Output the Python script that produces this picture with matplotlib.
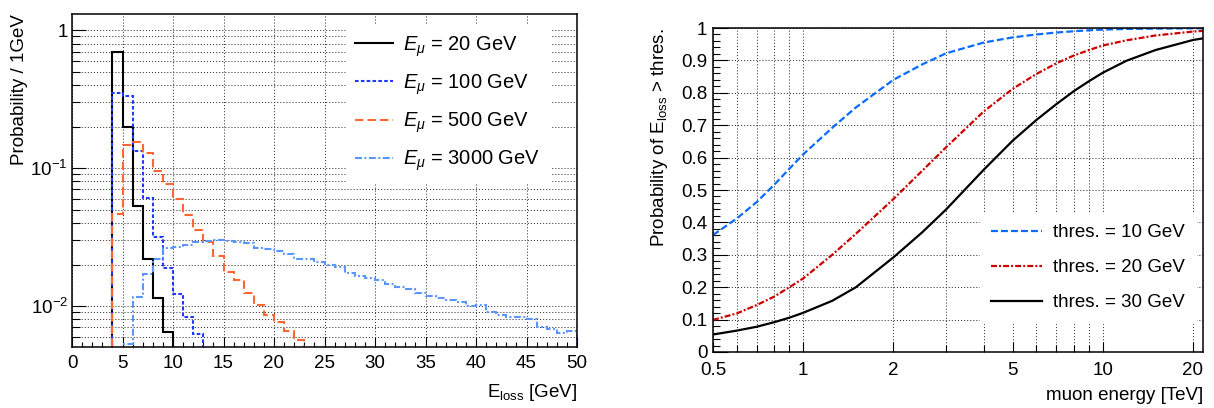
import numpy as np
import matplotlib
matplotlib.use("Agg")
import matplotlib.pyplot as plt
from matplotlib.lines import Line2D
from matplotlib.ticker import FixedLocator, FixedFormatter, MultipleLocator, LogLocator, NullFormatter

plt.rcParams["font.family"] = ["Liberation Sans", "DejaVu Sans"]
plt.rcParams["mathtext.fontset"] = "custom"
plt.rcParams["mathtext.rm"] = "Liberation Sans"
plt.rcParams["mathtext.it"] = "Liberation Sans:italic"
plt.rcParams["lines.scale_dashes"] = False
FS = 13.5

# ---- left: E_loss distributions, 1 GeV bins (first bin lower edge + contents)
start_20, start_100, start_500, start_3000 = 4, 4, 4, 5
p_20 = [0.69, 0.20, 0.0533, 0.0218, 0.0114, 0.0065]
p_100 = [0.351, 0.334, 0.133, 0.061, 0.0315, 0.0188, 0.0122, 0.0084, 0.0063]
p_500 = [0.0465, 0.147, 0.155, 0.129, 0.0955, 0.0762, 0.0593, 0.0456, 0.0355,
         0.0289, 0.0230, 0.0177, 0.0154, 0.0124, 0.0102, 0.0086, 0.0077,
         0.0066, 0.0057]
p_3000 = [0.0053, 0.0117, 0.0171, 0.0219, 0.0262, 0.0268, 0.0276, 0.0292,
          0.0298, 0.0300, 0.0296, 0.0292, 0.0288, 0.0265, 0.0260, 0.0250,
          0.0240, 0.0221, 0.0218, 0.0208, 0.0200, 0.0191, 0.0175, 0.0166,
          0.0160, 0.0155, 0.0145, 0.0138, 0.0132, 0.0125, 0.0118, 0.0115,
          0.0111, 0.0107, 0.0100, 0.0102, 0.0090, 0.0086, 0.0084, 0.0084,
          0.0080, 0.0070, 0.0068, 0.0064, 0.0066]
hist_labels = [r"$E_{\mu}$ = 20 GeV", r"$E_{\mu}$ = 100 GeV",
               r"$E_{\mu}$ = 500 GeV", r"$E_{\mu}$ = 3000 GeV"]

# ---- right: probability of E_loss above threshold vs muon energy [TeV]
muon_e = [0.5, 0.6, 0.7, 0.8, 0.9, 1.0, 1.25, 1.5, 2.0, 2.5, 3.0, 4.0, 5.0,
          6.0, 7.0, 8.0, 9.0, 10.0, 12.0, 15.0, 20.0, 21.6]
prob_10 = [0.361, 0.412, 0.463, 0.516, 0.566, 0.610, 0.692, 0.755, 0.840,
           0.888, 0.922, 0.955, 0.971, 0.980, 0.986, 0.990, 0.993, 0.995,
           0.997, 0.998, 0.999, 0.999]
prob_20 = [0.099, 0.119, 0.145, 0.171, 0.200, 0.227, 0.300, 0.365, 0.472,
           0.560, 0.632, 0.742, 0.812, 0.858, 0.891, 0.915, 0.932, 0.946,
           0.962, 0.977, 0.989, 0.991]
prob_30 = [0.054, 0.066, 0.078, 0.092, 0.106, 0.121, 0.158, 0.200, 0.292,
           0.370, 0.440, 0.562, 0.652, 0.716, 0.765, 0.805, 0.836, 0.862,
           0.899, 0.932, 0.963, 0.968]
thr_labels = ["thres. = 10 GeV", "thres. = 20 GeV", "thres. = 30 GeV"]

W, H = 1214, 408
fig = plt.figure(figsize=(W / 100, H / 100), dpi=100)

grid_kw = dict(color="#3a3a3a", linestyle=(0, (0.8, 1.4)), linewidth=0.7)

# ================= left panel
ax1 = fig.add_axes([72 / W, 1 - 347 / H, 505 / W, 333 / H])
styles = [
    dict(color="black", linestyle="-"),
    dict(color="#2038ff", linestyle=(0, (2.6, 1.6))),
    dict(color="#ff6633", linestyle=(0, (6.0, 3.0))),
    dict(color="#5b96ff", linestyle=(0, (5.0, 1.8, 1.4, 1.8))),
]
for start, vals, st in zip([start_20, start_100, start_500, start_3000],
                           [p_20, p_100, p_500, p_3000], styles):
    edges = np.arange(start, start + len(vals) + 1)
    ax1.stairs(vals, edges, baseline=1e-4, linewidth=1.5, **st)

ax1.set_yscale("log")
ax1.set_xlim(0, 50)
ax1.set_ylim(0.00505, 1.31)
ax1.xaxis.set_major_locator(MultipleLocator(5))
ax1.xaxis.set_minor_locator(MultipleLocator(1))
ax1.yaxis.set_major_locator(FixedLocator([0.01, 0.1, 1]))
ax1.yaxis.set_major_formatter(FixedFormatter([r"10$^{-2}$", r"10$^{-1}$", "1"]))
ax1.yaxis.set_minor_locator(LogLocator(base=10, subs=np.arange(2, 10)))
ax1.yaxis.set_minor_formatter(NullFormatter())
ax1.grid(True, which="major", axis="x", **grid_kw)
ax1.grid(True, which="both", axis="y", **grid_kw)
ax1.set_axisbelow(True)
ax1.tick_params(which="both", direction="in", labelsize=FS, width=0.8)
ax1.tick_params(axis="x", which="major", length=7, pad=6)
ax1.tick_params(axis="x", which="minor", length=3.6)
ax1.tick_params(axis="y", which="major", length=10, pad=3)
ax1.tick_params(axis="y", which="minor", length=5.8)
for s in ax1.spines.values():
    s.set_linewidth(1.1)
ax1.set_xlabel(r"E$_{\mathregular{loss}}$ [GeV]", fontsize=FS, loc="right", labelpad=7)
ax1.set_ylabel("Probability / 1GeV", fontsize=FS, loc="top", labelpad=2)

handles = [Line2D([], [], linewidth=1.5, **st) for st in styles]
leg1 = ax1.legend(handles, hist_labels, loc="upper left", fontsize=14.5,
                  bbox_to_anchor=(346 / W, 1 - 25 / H), bbox_transform=fig.transFigure,
                  borderaxespad=0, borderpad=0.45, labelspacing=0.68,
                  handlelength=1.9, handletextpad=0.5, fancybox=False,
                  framealpha=1, edgecolor="white", facecolor="white")

# ================= right panel
ax2 = fig.add_axes([713 / W, 1 - 352 / H, 490 / W, 324 / H])
curve_styles = [
    dict(color="#0a6cff", linestyle=(0, (5.0, 2.2))),
    dict(color="#cc0000", linestyle=(0, (4.3, 1.5, 1.4, 1.5))),
    dict(color="black", linestyle="-"),
]
for vals, st, lab in zip([prob_10, prob_20, prob_30], curve_styles, thr_labels):
    ax2.plot(muon_e, vals, linewidth=1.6, label=lab, **st)

ax2.set_xscale("log")
ax2.set_xlim(0.5, 21.6)
ax2.set_ylim(0, 1)
xmaj = [0.5, 1, 2, 5, 10, 20]
ax2.xaxis.set_major_locator(FixedLocator(xmaj))
ax2.xaxis.set_major_formatter(FixedFormatter(["0.5", "1", "2", "5", "10", "20"]))
ax2.xaxis.set_minor_locator(FixedLocator([0.6, 0.7, 0.8, 0.9, 3, 4, 6, 7, 8, 9]))
ax2.xaxis.set_minor_formatter(NullFormatter())
yt = np.round(np.arange(0, 1.01, 0.1), 1)
ax2.yaxis.set_major_locator(FixedLocator(yt))
ax2.yaxis.set_major_formatter(FixedFormatter(["0"] + ["%.1f" % v for v in yt[1:-1]] + ["1"]))
ax2.yaxis.set_minor_locator(MultipleLocator(0.02))
ax2.grid(True, which="both", axis="x", **grid_kw)
ax2.grid(True, which="major", axis="y", **grid_kw)
ax2.set_axisbelow(True)
ax2.tick_params(which="both", direction="in", labelsize=FS, width=0.8)
ax2.tick_params(axis="x", which="major", length=7, pad=7)
ax2.tick_params(axis="x", which="minor", length=5)
ax2.tick_params(axis="y", which="major", length=10.5, pad=4)
ax2.tick_params(axis="y", which="minor", length=5)
for s in ax2.spines.values():
    s.set_linewidth(1.1)
ax2.set_xlabel("muon energy [TeV]", fontsize=FS, loc="right", labelpad=6)
ax2.set_ylabel(r"Probability of E$_{\mathregular{loss}}$ > thres.", fontsize=FS,
               loc="top", labelpad=8)

leg2 = ax2.legend(loc="upper left", fontsize=FS,
                  bbox_to_anchor=(980 / W, 1 - 213 / H), bbox_transform=fig.transFigure,
                  borderaxespad=0, borderpad=0.6, labelspacing=0.95,
                  handlelength=2.7, handletextpad=0.6, fancybox=False,
                  framealpha=1, edgecolor="white", facecolor="white")

fig.savefig("out.png", dpi=100)
